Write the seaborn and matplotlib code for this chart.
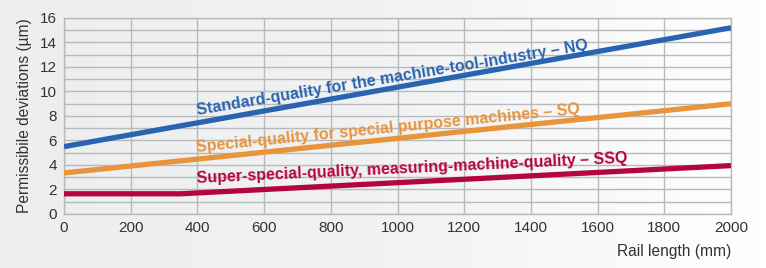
import numpy as np
import pandas as pd
import matplotlib.pyplot as plt
import seaborn as sns

# values
rail_nq = [0, 2000]
dev_nq = [5.5, 15.2]
rail_sq = [0, 2000]
dev_sq = [3.35, 9.0]
rail_ssq = [0, 350, 2000]
dev_ssq = [1.65, 1.65, 3.95]

labels = ["Standard-quality for the machine-tool-industry \u2013 NQ",
          "Special-quality for special purpose machines \u2013 SQ",
          "Super-special-quality, measuring-machine-quality \u2013 SSQ"]
colors = ["#2a64b0", "#e8943a", "#b4063c"]

sns.set_theme(style="white")
plt.rcParams['font.family'] = ['Liberation Sans', 'DejaVu Sans']

fig = plt.figure(figsize=(7.66, 2.68), dpi=100)

# soft grey-to-white background
bg = fig.add_axes([0, 0, 1, 1], zorder=-10)
grad = np.linspace(0, 1, 256).reshape(1, -1)
bg.imshow(grad, aspect="auto", cmap=sns.blend_palette(["#eceef0", "#f1f2f3", "#ffffff"], as_cmap=True),
          extent=[0, 1, 0, 1])
bg.axis("off")

ax = fig.add_axes([0.0836, 0.2015, 0.8707, 0.7315])
ax.set_facecolor("none")

series = [(rail_nq, dev_nq), (rail_sq, dev_sq), (rail_ssq, dev_ssq)]
for (xs, ys), c in zip(series, colors):
    df = pd.DataFrame({"rail": xs, "dev": ys})
    sns.lineplot(data=df, x="rail", y="dev", color=c, lw=3.8, ax=ax,
                 solid_capstyle="butt", zorder=3)

ax.set_xlim(0, 2000)
ax.set_ylim(0, 16)
ax.set_xticks(range(0, 2001, 200))
ax.set_yticks(range(0, 17, 2))
ax.set_yticks(range(1, 16, 2), minor=True)
ax.grid(True, which="both", color="#b8b9bb", lw=1.0)
for s in ax.spines.values():
    s.set_color("#b8b9bb")
    s.set_linewidth(1.0)
ax.tick_params(axis="both", which="both", length=0, labelsize=11, colors="#333333", pad=5)

ax.set_xlabel("")
ax.set_ylabel("Permissibile deviations (\u00b5m)", fontsize=11.2, color="#333333", labelpad=6)
fig.text(0.955, 0.035, "Rail length (mm)", ha="right", va="bottom", fontsize=11.2, color="#333333")

# inline labels along the lines
pos = [(399, 8.05, 9.5), (399, 5.05, 5.7), (399, 2.55, 2.7)]
for (x, y, rot), lab, c in zip(pos, labels, colors):
    ax.text(x, y, lab, color=c, fontsize=11.5, fontweight="bold", rotation=rot,
            rotation_mode="anchor", ha="left", va="baseline", zorder=4)

fig.savefig("out.png", dpi=100)
